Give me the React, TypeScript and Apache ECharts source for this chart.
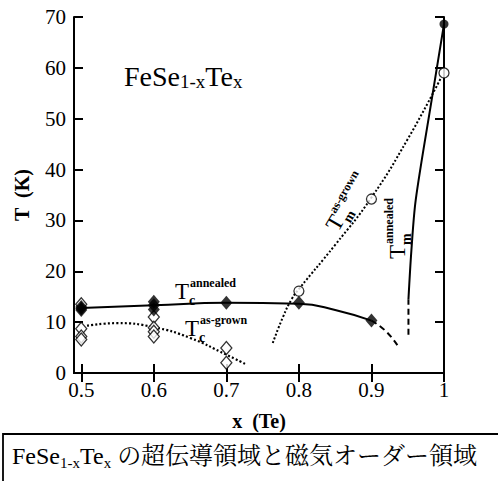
import React, { useEffect, useRef } from "react";
import * as echarts from "echarts";

// ---- data ----
const xTicks = [0.5, 0.6, 0.7, 0.8, 0.9, 1.0];
// Tc annealed (filled diamonds)
const tcAnnealedPts = [
  [0.5, 12.4], [0.5, 13.0], [0.5, 12.7],
  [0.6, 14.0], [0.6, 13.3], [0.6, 12.5],
  [0.7, 13.8], [0.8, 13.8], [0.9, 10.3],
];
// Tc as-grown (open diamonds)
const tcAsGrownPts = [
  [0.5, 13.5], [0.5, 8.7], [0.5, 7.2], [0.5, 6.6],
  [0.6, 11.0], [0.6, 8.9], [0.6, 8.1], [0.6, 7.2],
  [0.7, 4.9], [0.7, 2.0],
];
// Tm as-grown (open circles)
const tmAsGrownPts = [[0.8, 16.1], [0.9, 34.2], [1.0, 59.0]];
// Tm annealed (filled circle)
const tmAnnealedPts = [[1.0, 68.6]];
// guide curves
const tcAnnealedCurve = [[0.5, 12.8], [0.6, 13.3], [0.7, 13.8], [0.8, 13.6], [0.85, 12.4], [0.9, 10.3]];
const tcAnnealedDash = [[0.9, 10.3], [0.92, 8.2], [0.937, 5.2]];
const tcAsGrownCurve = [[0.508, 9.3], [0.55, 9.8], [0.6, 9.0], [0.65, 6.9], [0.7, 3.6], [0.727, 1.7]];
const tmAsGrownCurve = [[0.764, 5.9], [0.778, 11.0], [0.79, 14.5], [0.8, 16.5], [0.85, 25.2], [0.9, 34.5], [0.95, 46.0], [0.995, 57.8]];
const tmAnnealedCurve = [[0.951, 14.5], [0.955, 24.0], [0.961, 34.0], [0.983, 53.7], [1.0, 68.6]];
const tmAnnealedDash = [[0.951, 7.5], [0.951, 14.5]];

const SERIF = "Liberation Serif";
const CJK = "Liberation Serif, Noto Serif CJK JP, Noto Sans CJK JP";

function labelGroup(x: number, y: number, rotDeg: number, main: string, sub: string, sup: string) {
  return {
    type: "group",
    x, y,
    rotation: (rotDeg * Math.PI) / 180,
    children: [
      { type: "text", x: 0, y: 0, style: { text: main, fontFamily: SERIF, fontSize: 23, fill: "#000", align: "center", verticalAlign: "middle" } },
      { type: "text", x: 7, y: 9, style: { text: sub, fontFamily: SERIF, fontWeight: "bold", fontSize: 14, fill: "#000", align: "left", verticalAlign: "middle" } },
      { type: "text", x: 8, y: -8, style: { text: sup, fontFamily: SERIF, fontWeight: "bold", fontSize: 12, fill: "#000", align: "left", verticalAlign: "middle" } },
    ],
  };
}

export default function App() {
  const ref = useRef<HTMLDivElement>(null);
  useEffect(() => {
    if (!ref.current) return;
    const chart = echarts.init(ref.current, undefined, { renderer: "svg" });
    const lineBase = { type: "line", smooth: true, symbol: "none", silent: true, z: 2 } as any;
    const axisLine = { show: true, lineStyle: { color: "#000", width: 2 } };
    const tickLabel = { fontFamily: SERIF, fontSize: 21, color: "#000", fontWeight: "normal" };
    chart.setOption({
      animation: false,
      backgroundColor: "#fff",
      textStyle: { fontFamily: SERIF },
      grid: { left: 74, right: 54, top: 17, bottom: 108 },
      xAxis: [
        {
          type: "value", min: 0.49, max: 1.0, position: "bottom",
          name: "x  (Te)", nameLocation: "middle", nameGap: 38,
          nameTextStyle: { fontFamily: SERIF, fontSize: 20, fontWeight: "bold", color: "#000" },
          axisLine,
          axisTick: { show: true, inside: true, length: 9, lineStyle: { color: "#000", width: 2 }, customValues: xTicks },
          axisLabel: { customValues: xTicks, margin: 6, ...tickLabel,
            formatter: (v: number) => (Math.abs(v - 1) < 1e-9 ? "1" : v.toFixed(1)) },
          splitLine: { show: false },
        },
        {
          type: "value", min: 0.49, max: 1.0, position: "top",
          axisLine,
          axisTick: { show: true, inside: true, length: 9, lineStyle: { color: "#000", width: 2 }, customValues: xTicks },
          axisLabel: { show: false },
          splitLine: { show: false },
        },
      ],
      yAxis: [
        {
          type: "value", min: 0, max: 70, interval: 10, position: "left",
          name: "T  (K)", nameLocation: "middle", nameGap: 42, nameRotate: 90,
          nameTextStyle: { fontFamily: SERIF, fontSize: 20, fontWeight: "bold", color: "#000" },
          axisLine,
          axisTick: { show: true, inside: true, length: 9, lineStyle: { color: "#000", width: 2 } },
          axisLabel: { margin: 8, ...tickLabel },
          splitLine: { show: false },
        },
        {
          type: "value", min: 0, max: 70, interval: 10, position: "right",
          axisLine,
          axisTick: { show: true, inside: true, length: 9, lineStyle: { color: "#000", width: 2 } },
          axisLabel: { show: false },
          splitLine: { show: false },
        },
      ],
      series: [
        { ...lineBase, data: tcAnnealedCurve, lineStyle: { color: "#000", width: 2 } },
        { ...lineBase, data: tcAnnealedDash, lineStyle: { color: "#000", width: 2, type: [6, 4] } },
        { ...lineBase, data: tcAsGrownCurve, lineStyle: { color: "#000", width: 2.2, type: [2, 2.2] } },
        { ...lineBase, data: tmAsGrownCurve, lineStyle: { color: "#000", width: 2, type: [2, 2] } },
        { ...lineBase, data: tmAnnealedCurve, smooth: 0.3, lineStyle: { color: "#000", width: 2 } },
        { ...lineBase, data: tmAnnealedDash, smooth: false, lineStyle: { color: "#000", width: 2, type: [6, 4] } },
        { type: "scatter", data: tcAsGrownPts, symbol: "diamond", symbolSize: [11, 13], z: 3,
          itemStyle: { color: "#fff", borderColor: "#000", borderWidth: 1.3 } },
        { type: "scatter", data: tcAnnealedPts, symbol: "diamond", symbolSize: [12, 14], z: 4,
          itemStyle: { color: "#000" } },
        { type: "scatter", data: tmAsGrownPts, symbol: "circle", symbolSize: 10, z: 4,
          itemStyle: { color: "#fff", borderColor: "#000", borderWidth: 1.3 } },
        { type: "scatter", data: tmAnnealedPts, symbol: "circle", symbolSize: 9, z: 4,
          itemStyle: { color: "#000" } },
      ],
      graphic: [
        {
          type: "text", left: 124, top: 62,
          style: {
            text: "{a|FeSe}{s|1-x}{a|Te}{s|x}",
            rich: {
              a: { fontFamily: SERIF, fontSize: 28, color: "#000", lineHeight: 30 },
              s: { fontFamily: SERIF, fontSize: 19, color: "#000", lineHeight: 15, verticalAlign: "bottom" },
            },
          },
        },
        labelGroup(182, 291, 0, "T", "c", "annealed"),
        labelGroup(192, 328, 0, "T", "c", "as-grown"),
        labelGroup(335, 223, 60, "T", "m", "as-grown"),
        labelGroup(397, 252, 90, "T", "m", "annealed"),
        {
          type: "rect", shape: { x: 3, y: 434, width: 600, height: 120 },
          style: { fill: "none", stroke: "#000", lineWidth: 1.8 },
        },
        {
          type: "text", x: 12, y: 456,
          style: {
            text: "{a|FeSe}{s|1-x}{a|Te}{s|x}{a| の超伝導領域と磁気オーダー領域}",
            verticalAlign: "middle",
            rich: {
              a: { fontFamily: CJK, fontSize: 24, color: "#333", lineHeight: 28 },
              s: { fontFamily: CJK, fontSize: 15, color: "#333", lineHeight: 15, verticalAlign: "bottom" },
            },
          },
        },
      ],
    });
    return () => chart.dispose();
  }, []);
  return <div ref={ref} style={{ position: "fixed", left: 0, top: 0, width: 498, height: 481 }} />;
}
